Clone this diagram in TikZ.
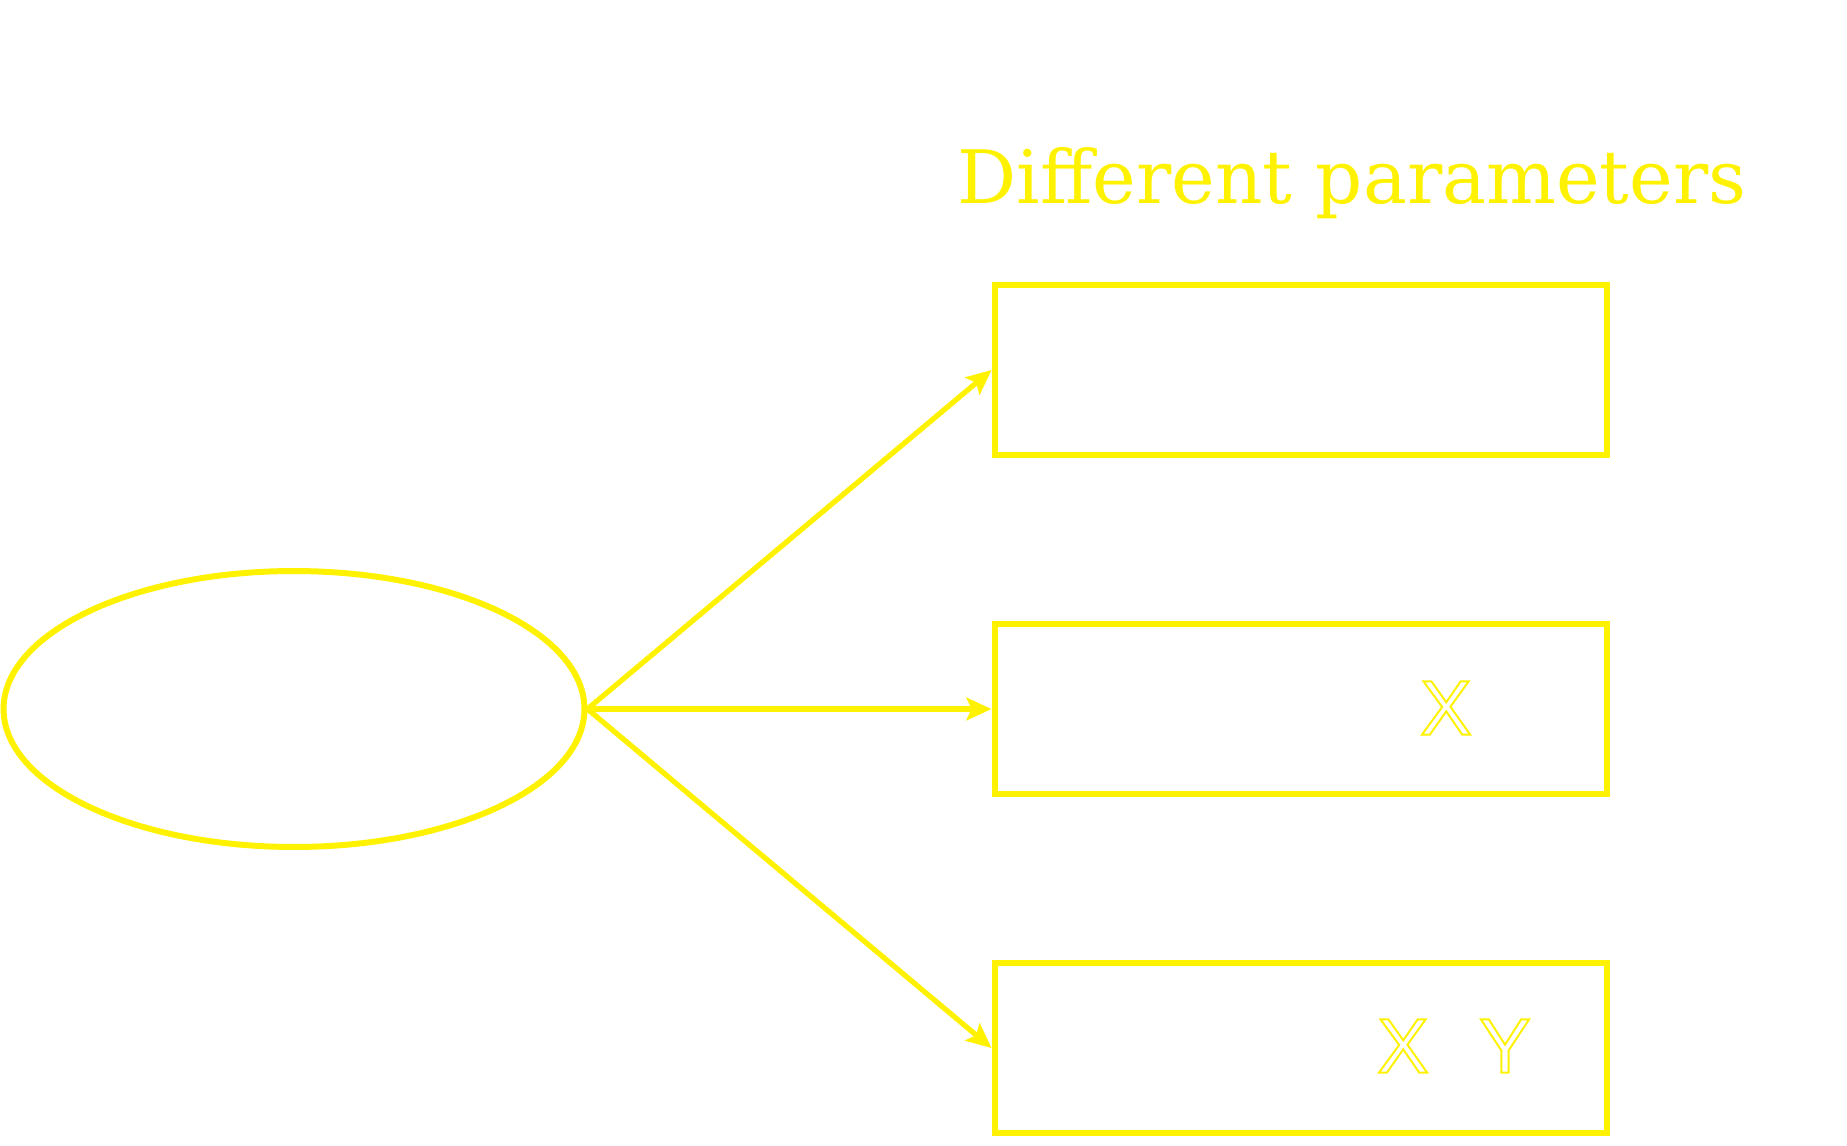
\documentclass[tikz,border=0pt]{standalone}
\usepackage{fontspec}
\usetikzlibrary{arrows.meta,shapes.geometric}
\newfontfamily\titlefont{DejaVu Serif}
\newfontfamily\letterfont{Liberation Sans}
% outlined letters (stroke only)
\newcommand{\hollow}[1]{\special{pdf:code 1 Tr 1.1 w}#1\special{pdf:code 0 Tr}}
\tikzset{
  parambox/.style={draw=yellow, line width=3.4pt, minimum width=12.26cm, minimum height=3.4cm},
  link/.style={draw=yellow, line width=3pt, -{Stealth[length=0.5cm,width=0.45cm,inset=0.1cm]}},
  letter/.style={text=yellow, inner sep=0pt, font=\letterfont\fontsize{44}{50}\selectfont}
}
\begin{document}
\begin{tikzpicture}[x=0.02cm,y=-0.02cm]
  \useasboundingbox (0,0) rectangle (1847,1146);
  \node[ellipse, draw=yellow, line width=3.4pt, minimum width=11.62cm, minimum height=5.52cm] (src) at (294,709) {};
  \node[parambox] (b1) at (1301,370) {};
  \node[parambox] (b2) at (1301,709) {};
  \node[parambox] (b3) at (1301,1048) {};
  \node[anchor=base, text=yellow, inner sep=0pt, font=\titlefont\fontsize{42}{48}\selectfont] (title) at (1352,203) {Different parameters};
  \node[letter] (x2) at (1446,708) {\hollow{X}};
  \node[letter] (x3) at (1403,1046) {\hollow{X}};
  \node[letter] (y3) at (1505,1046) {\hollow{Y}};
  \draw[link] (src.east) -- (b1.west);
  \draw[link] (src.east) -- (b2.west);
  \draw[link] (src.east) -- (b3.west);
\end{tikzpicture}
\end{document}
